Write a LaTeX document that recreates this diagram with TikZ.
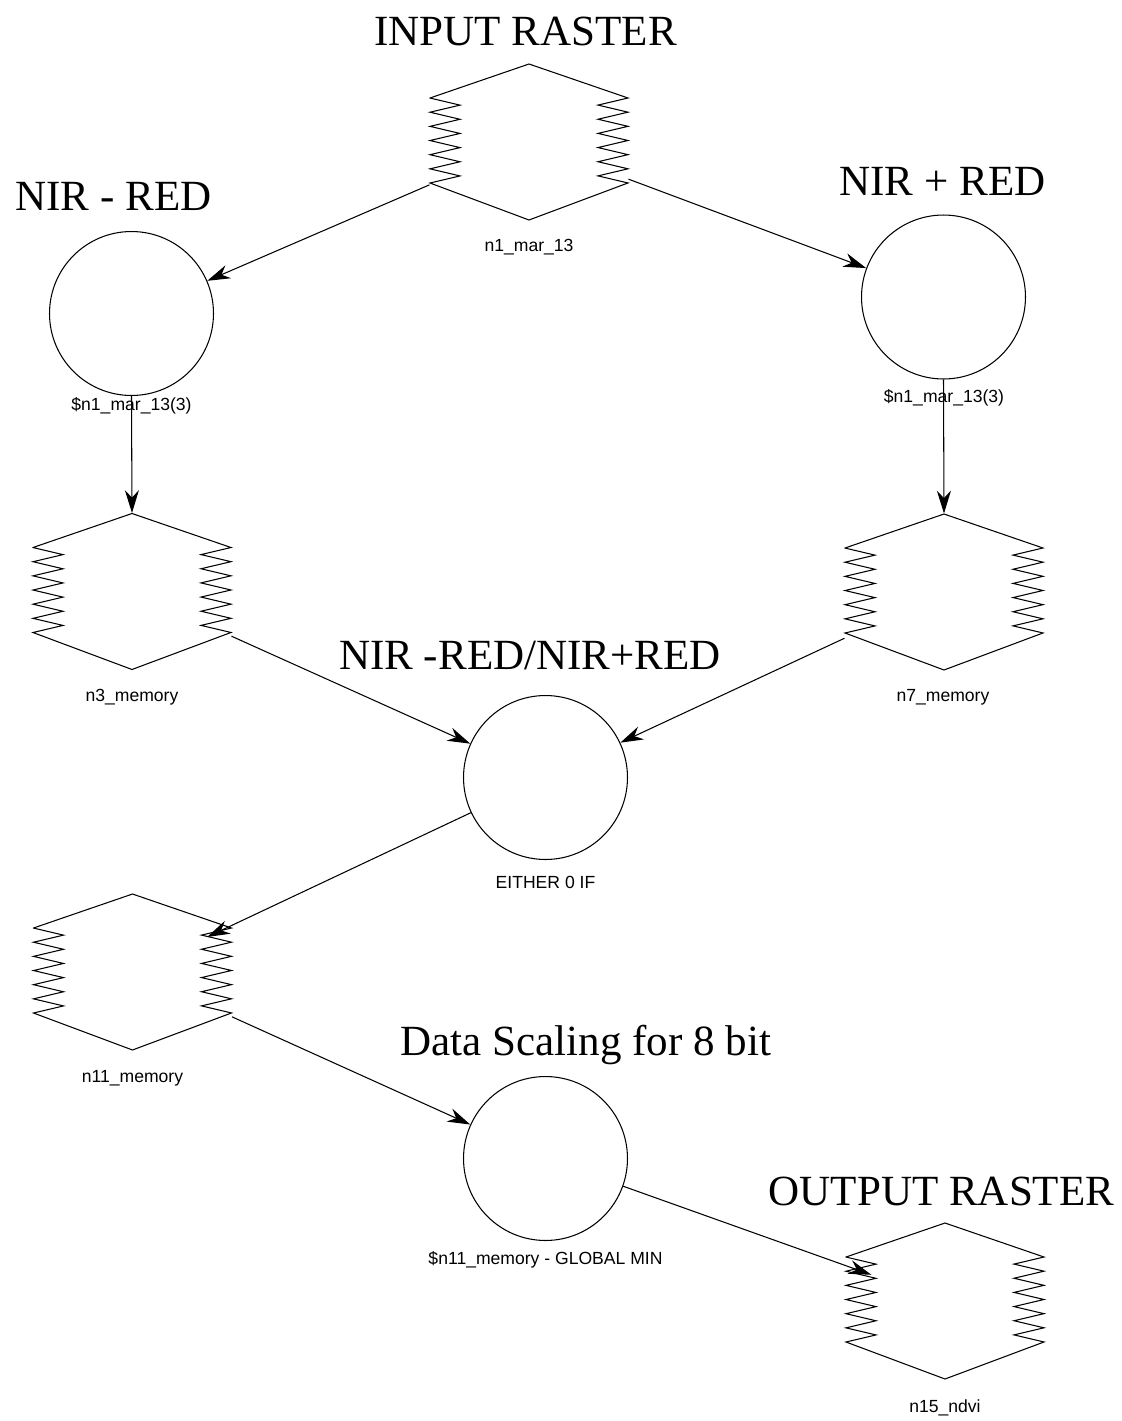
\documentclass[tikz,border=0pt]{standalone}
\usepackage{fontspec}
\setmainfont{Liberation Serif}
\newfontfamily\labelfont{Liberation Sans}
\usetikzlibrary{arrows.meta}

%raster symbol drawn round a named node
\newcommand{\rasterbox}[1]{%
\draw ([shift={(-99,-44)}]#1.center) -- ([shift={(0,-78)}]#1.center) -- ([shift={(99,-44)}]#1.center)
  \foreach \k in {1,...,6}{-- ++(-30,7.08) -- ++(30,7.08)}
  -- ([shift={(0,78)}]#1.center) -- ([shift={(-99,41)}]#1.center)
  \foreach \k in {1,...,6}{-- ++(30,-7.08) -- ++(-30,-7.08)}
  -- cycle;}

\begin{document}
\begin{tikzpicture}[x=0.02cm, y=-0.02cm, line width=0.6pt,
  >={Stealth[length=13pt, width=8pt]},
  opnode/.style={circle, draw, minimum size=3.28cm, inner sep=0},
  raster/.style={rectangle, draw=none, minimum width=3.96cm, minimum height=3.12cm, inner sep=0},
  title/.style={font=\fontsize{24.5}{29}\selectfont, anchor=base, inner sep=0},
  tag/.style={font=\labelfont\fontsize{10}{12}\selectfont, inner sep=0},
  into/.style={shorten >=-0.55cm}]

\useasboundingbox (0,0) rectangle (1122,1421);

\node[raster] (n1) at (529,142) {};
\node[raster] (n3) at (132,591.5) {};
\node[raster] (n7) at (944,592) {};
\node[raster] (n11) at (132.5,972) {};
\node[raster] (n15) at (945,1301) {};
\rasterbox{n1}
\rasterbox{n3}
\rasterbox{n7}
\rasterbox{n11}
\rasterbox{n15}

\node[opnode] (sub) at (131.5,313.5) {};
\node[opnode] (add) at (943.5,297) {};
\node[opnode] (ratio) at (545.5,777.5) {};
\node[opnode] (scale) at (545.5,1158.5) {};

%titles
\node[title] (t-in) at (525.5,45) {INPUT RASTER};
\node[title] (t-sub) at (113.5,210) {NIR - RED};
\node[title] (t-add) at (942.5,195) {NIR + RED};
\node[title] (t-ratio) at (530,669) {NIR -RED/NIR+RED};
\node[title] (t-scale) at (586,1055) {Data Scaling for 8 bit};
\node[title] (t-out) at (941.5,1205) {OUTPUT RASTER};

%node tags
\node[tag] (l-n1) at (529,247) {n1\_mar\_13};
\node[tag] (l-sub) at (131.5,406) {\$n1\_mar\_13(3)};
\node[tag] (l-add) at (944,398) {\$n1\_mar\_13(3)};
\node[tag] (l-n3) at (132,697) {n3\_memory};
\node[tag] (l-n7) at (943,697) {n7\_memory};
\node[tag] (l-ratio) at (545.5,882) {EITHER 0 IF};
\node[tag] (l-n11) at (132.5,1078) {n11\_memory};
\node[tag] (l-scale) at (545.5,1260) {\$n11\_memory - GLOBAL MIN};
\node[tag] (l-n15) at (945,1408) {n15\_ndvi};

%connectors
\draw[->] (n1) -- (sub);
\draw[->] (n1) -- (add);
\draw[->] (sub.south) -- (n3.north);
\draw[->] (add.south) -- (n7.north);
\draw[->] (n3) -- (ratio);
\draw[->] (n7) -- (ratio);
\draw[->, into] (ratio) -- (n11);
\draw[->] (n11) -- (scale);
\draw[->, into] (scale) -- (n15);
\end{tikzpicture}
\end{document}
